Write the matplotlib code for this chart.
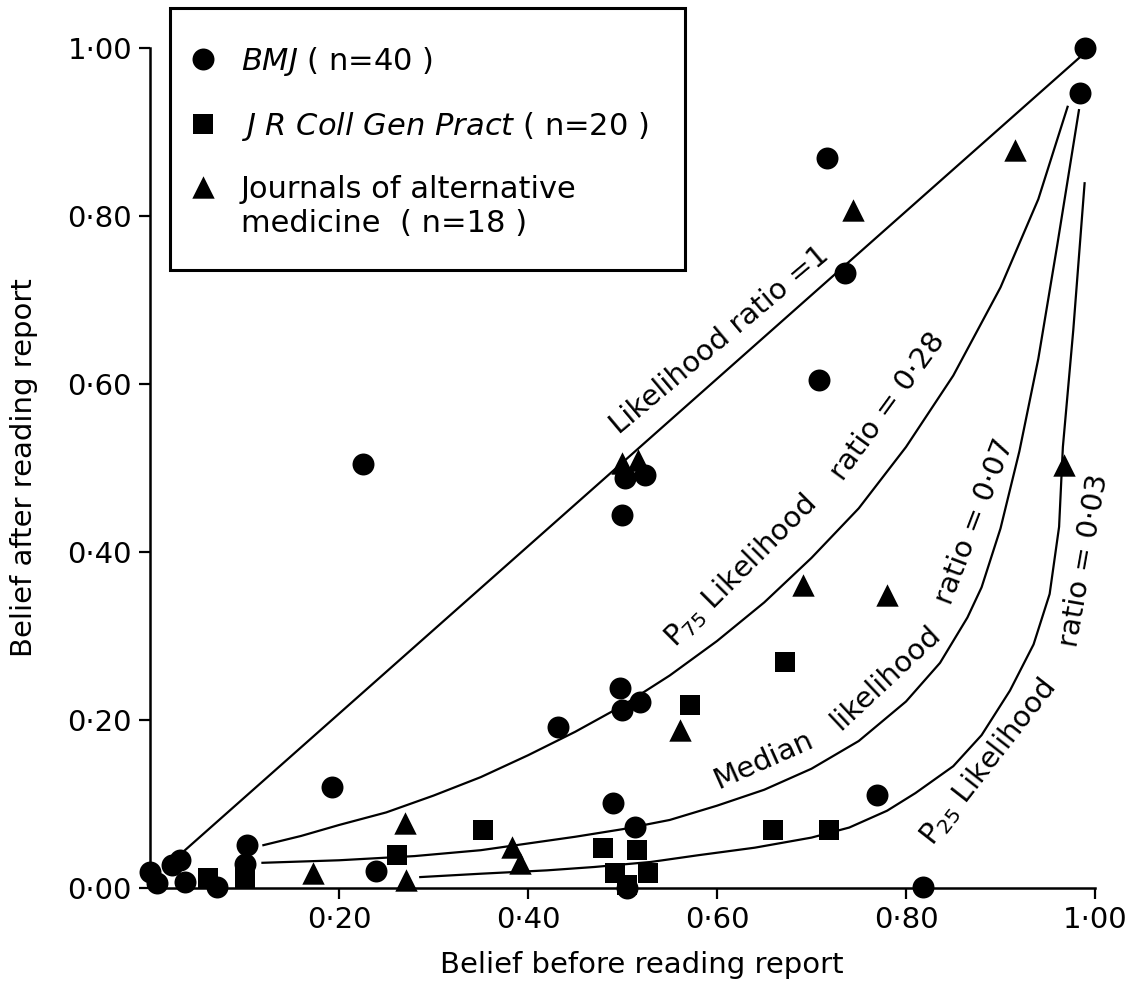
import numpy as np
import matplotlib
matplotlib.use("Agg")
import matplotlib.pyplot as plt
from matplotlib.patches import Rectangle

# BMJ (Kreise)
bmj_x = [0.989, 0.984, 0.716, 0.735, 0.708, 0.225, 0.500, 0.524, 0.503,
         0.497, 0.519, 0.499, 0.432, 0.193, 0.769, 0.103, 0.100, 0.239,
         0.818, 0.490, 0.513, 0.505, 0.000, 0.007, 0.023, 0.032, 0.037, 0.071]
bmj_y = [1.000, 0.946, 0.869, 0.732, 0.605, 0.505, 0.444, 0.492, 0.488,
         0.238, 0.221, 0.212, 0.192, 0.120, 0.111, 0.051, 0.028, 0.020,
         0.001, 0.101, 0.073, 0.000, 0.019, 0.006, 0.027, 0.033, 0.007, 0.001]

# J R Coll Gen Pract (Quadrate)
jr_x = [0.672, 0.571, 0.659, 0.719, 0.352, 0.261, 0.061, 0.100, 0.479,
        0.515, 0.492, 0.527, 0.505]
jr_y = [0.269, 0.218, 0.069, 0.069, 0.069, 0.039, 0.012, 0.012, 0.048,
        0.045, 0.018, 0.018, 0.004]

# Journals of alternative medicine (Dreiecke)
alt_x = [0.915, 0.744, 0.691, 0.780, 0.967, 0.561, 0.500, 0.516, 0.270,
         0.172, 0.271, 0.383, 0.392]
alt_y = [0.879, 0.807, 0.361, 0.349, 0.504, 0.188, 0.506, 0.510, 0.077,
         0.018, 0.010, 0.049, 0.030]

# Kurven
lr1_x = [0.037, 0.985]
lr1_y = [0.045, 0.990]

p75_x = [0.120, 0.160, 0.200, 0.250, 0.300, 0.350, 0.400, 0.450, 0.500,
         0.550, 0.600, 0.650, 0.700, 0.750, 0.800, 0.850, 0.900, 0.940, 0.971]
p75_y = [0.051, 0.062, 0.075, 0.090, 0.110, 0.132, 0.158, 0.186, 0.217,
         0.253, 0.294, 0.340, 0.393, 0.452, 0.525, 0.610, 0.715, 0.820, 0.930]

med_x = [0.119, 0.200, 0.280, 0.350, 0.400, 0.450, 0.500, 0.550, 0.600,
         0.650, 0.700, 0.750, 0.800, 0.836, 0.865, 0.880, 0.900, 0.920,
         0.940, 0.960, 0.983]
med_y = [0.030, 0.033, 0.038, 0.045, 0.053, 0.061, 0.070, 0.081, 0.098,
         0.117, 0.142, 0.175, 0.222, 0.268, 0.322, 0.358, 0.428, 0.520,
         0.630, 0.765, 0.926]

p25_x = [0.286, 0.350, 0.420, 0.470, 0.530, 0.580, 0.640, 0.700, 0.740,
         0.780, 0.810, 0.850, 0.880, 0.910, 0.935, 0.952, 0.962, 0.966,
         0.977, 0.989]
p25_y = [0.013, 0.017, 0.021, 0.025, 0.031, 0.039, 0.048, 0.060, 0.072,
         0.092, 0.113, 0.145, 0.182, 0.235, 0.290, 0.350, 0.430, 0.525,
         0.664, 0.839]

ytick_vals = [0.0, 0.2, 0.4, 0.6, 0.8, 1.0]
ytick_labels = ["0·00", "0·20", "0·40", "0·60", "0·80", "1·00"]
xtick_vals = [0.2, 0.4, 0.6, 0.8, 1.0]
xtick_labels = ["0·20", "0·40", "0·60", "0·80", "1·00"]

legend_labels = [r"$\mathit{BMJ}$ ( n=40 )",
                 r"$\mathit{J\ R\ Coll\ Gen\ Pract}$ ( n=20 )",
                 "Journals of alternative"]

# Beschriftungen an den Kurven: Text, x, y, Winkel
curve_labels = [
    ("Likelihood ratio =1", 0.603, 0.652, 40),
    (r"P$_{75}$ Likelihood", 0.625, 0.377, 45),
    ("ratio = 0·28", 0.781, 0.573, 54),
    ("Median", 0.649, 0.152, 24),
    ("likelihood", 0.778, 0.250, 43),
    ("ratio = 0·07", 0.873, 0.436, 69),
    (r"P$_{25}$ Likelihood", 0.887, 0.150, 52),
    ("ratio = 0·03", 0.989, 0.390, 80),
]

plt.rcParams["font.family"] = ["DejaVu Sans"]
plt.rcParams["mathtext.fontset"] = "dejavusans"

W, H = 1138, 996
fig = plt.figure(figsize=(W / 100, H / 100), dpi=100)
ax = fig.add_axes([150 / W, 1 - 888 / H, 945 / W, 840 / H])

lw = 1.6
ax.plot(lr1_x, lr1_y, color="black", lw=lw, zorder=2)
ax.plot(p75_x, p75_y, color="black", lw=lw, zorder=2)
ax.plot(med_x, med_y, color="black", lw=lw, zorder=2)
ax.plot(p25_x, p25_y, color="black", lw=lw, zorder=2)

h1 = ax.scatter(bmj_x, bmj_y, s=250, marker="o", color="black",
                linewidths=0, zorder=4, clip_on=False)
h2 = ax.scatter(jr_x, jr_y, s=225, marker="s", color="black",
                linewidths=0, zorder=4, clip_on=False)
h3 = ax.scatter(alt_x, alt_y, s=260, marker="^", color="black",
                linewidths=0, zorder=4, clip_on=False)

for txt, tx, ty, ang in curve_labels:
    ax.text(tx, ty, txt, rotation=ang, rotation_mode="anchor",
            ha="center", va="center", fontsize=21)

ax.set_xlim(0, 1)
ax.set_ylim(0, 1)
ax.set_xticks(xtick_vals)
ax.set_xticklabels(xtick_labels)
ax.set_yticks(ytick_vals)
ax.set_yticklabels(ytick_labels)
ax.tick_params(direction="out", length=8, width=1.6, labelsize=21, pad=5)

for s in ["top", "right"]:
    ax.spines[s].set_visible(False)
for s in ["left", "bottom"]:
    ax.spines[s].set_linewidth(1.8)

ax.set_xlabel("Belief before reading report", fontsize=21)
ax.xaxis.set_label_coords(0.52, -0.075)
ax.set_ylabel("Belief after reading report", fontsize=21)
ax.yaxis.set_label_coords(-0.118, 0.5)

# Legende
leg = fig.legend([h1, h2, h3], legend_labels, loc="upper left",
                 bbox_to_anchor=(188 / W, 1 - 45 / H), frameon=False,
                 fontsize=22, borderpad=0, borderaxespad=0,
                 handlelength=1.0, handletextpad=0.73, labelspacing=1.05,
                 scatterpoints=1, scatteryoffsets=[0.5])
fig.text(241 / W, 1 - 224 / H, "medicine  ( n=18 )", fontsize=22,
         ha="left", va="center")
fig.patches.append(Rectangle((170 / W, 1 - 270 / H), 515 / W, 262 / H,
                             transform=fig.transFigure, fill=False,
                             lw=2.2, edgecolor="black"))

fig.savefig("out.png", dpi=100)
